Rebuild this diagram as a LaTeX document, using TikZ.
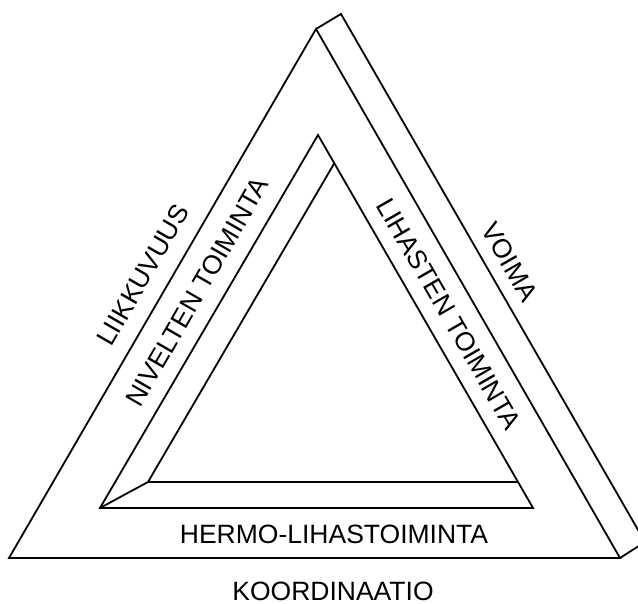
\documentclass[tikz,border=0pt]{standalone}
\usepackage{fontspec}
\setmainfont{Liberation Sans}
\usetikzlibrary{calc}

\begin{document}
\begin{tikzpicture}[
    x=1pt, y=1pt,
    edge/.style={line width=1.8pt, black},
    lbl/.style={font=\fontsize{26.5}{30}\selectfont, inner sep=0pt},
    lside/.style={lbl, rotate=60},
    rside/.style={lbl, rotate=-60}
]
\clip (0,0) rectangle (638,604);

% ---------------- outer frame ----------------
\coordinate (topF) at (316,575);
\coordinate (topB) at (341,590);
\coordinate (botL) at (9,46);
\coordinate (botR) at (620,46);
\coordinate (botRB) at (645,62);

\draw[edge] (botL) -- (topF) -- (botR) -- cycle;
\draw[edge] (topF) -- (topB) -- (botRB) -- (botR);

% ---------------- inner opening ----------------
\coordinate (inTop) at (318,469);
\coordinate (inL) at (100,96);
\coordinate (inR) at (533,96);
\coordinate (inLB) at (148,122);
\coordinate (inT) at (intersection of inLB--{$(inLB)+(inTop)-(inL)$} and inTop--inR);
\coordinate (inU) at (intersection of inLB--{$(inLB)+(100,0)$} and inTop--inR);

\draw[edge] (inTop) -- (inL) -- (inR) -- cycle;
\draw[edge] (inL) -- (inLB) -- (inT);
\draw[edge] (inLB) -- (inU);

% ---------------- labels ----------------
\node[lside] (liik) at (143,329) {LIIKKUVUUS};
\node[lside] (nivel) at (197,312) {NIVELTEN TOIMINTA};
\node[rside] (lihas) at (449,290) {LIHASTEN TOIMINTA};
\node[rside] (voima) at (510,342) {VOIMA};
\node[lbl, anchor=base] (hermo) at (334,60) {HERMO-LIHASTOIMINTA};
\node[lbl, anchor=base] (koord) at (333,3.5) {KOORDINAATIO};

\end{tikzpicture}
\end{document}
